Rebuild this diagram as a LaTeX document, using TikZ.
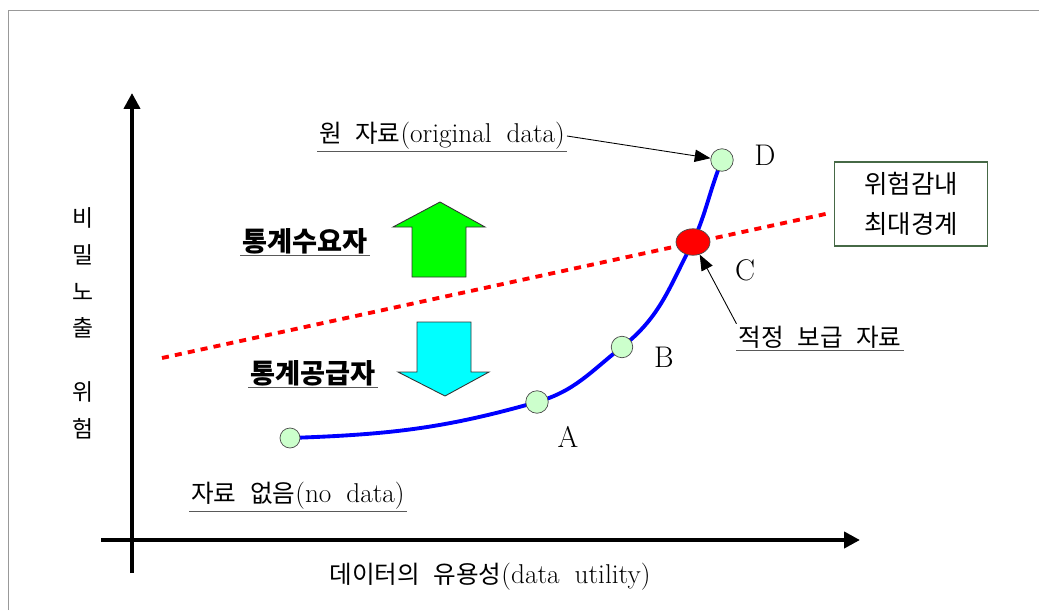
\documentclass[tikz,border=0pt]{standalone}
\usepackage{fontspec}
\usepackage{tikz}
\usetikzlibrary{arrows.meta,shapes.geometric}
\newfontfamily\kr{Noto Sans CJK KR}
\newcommand{\ksp}{\hspace{0.55em}}
\definecolor{ptgreen}{RGB}{204,255,204}
\definecolor{boxgreen}{RGB}{70,105,70}
\definecolor{upgreen}{RGB}{0,255,0}
\definecolor{downcyan}{RGB}{0,255,255}

\begin{document}
\begin{tikzpicture}[x=0.02cm,y=0.02cm,
  axisline/.style={line width=2.3pt,-{Triangle[length=9pt,width=9pt]}},
  ptnode/.style={circle,draw=black!70,fill=ptgreen,minimum size=0.4cm,inner sep=0pt},
  pointer/.style={line width=0.5pt,-{Triangle[length=9pt,width=7pt]}},
  lbl/.style={font=\fontsize{15.5}{18}\selectfont,inner sep=1pt},
  uline/.style={gray!70!black,line width=0.6pt}]
\useasboundingbox (0,0) rectangle (1039,610);
\draw[gray!80] (8,0) -- (8,600) -- (1039,600);
\coordinate (ybot) at (132,37);
\coordinate (ytop) at (132,517);
\coordinate (xleft) at (101,70);
\coordinate (xright) at (860,70);
\draw[axisline] (ybot) -- (ytop);
\draw[axisline] (xleft) -- (xright);
\node[font=\kr\fontsize{13}{21}\selectfont,align=center] (ylab) at (83,287) {비\\밀\\노\\출\\[15pt]위\\험};
\node[lbl] (xlab) at (490,33) {{\kr\fontsize{14}{18}\selectfont 데이터의\ksp 유용성}(data\ksp utility)};
\coordinate (lineL) at (162,252);
\coordinate (lineR) at (830,397);
\draw[red,line width=2.2pt,dash pattern=on 4pt off 3.5pt] (lineL) -- (lineR);
\coordinate (s) at (290,172);
\coordinate (a) at (537,208);
\coordinate (b) at (622,263);
\coordinate (c) at (693,368);
\coordinate (d) at (722,450);
\draw[blue,line width=2.2pt] (s) to[out=2,in=196] (a) to[out=16,in=218] (b) to[out=38,in=242] (c) to[out=66,in=248] (d);
\node[ptnode] (pS) at (s) {};
\node[ptnode,minimum size=0.45cm] (pA) at (a) {};
\node[ptnode,minimum size=0.43cm] (pB) at (b) {};
\node[ellipse,draw=black!70,fill=red,minimum width=0.68cm,minimum height=0.53cm,inner sep=0pt] (pC) at (c) {};
\node[ptnode,minimum size=0.45cm] (pD) at (d) {};
\node[lbl,font=\fontsize{17}{18}\selectfont] (labA) at (568,173) {A};
\node[lbl,font=\fontsize{17}{18}\selectfont] (labB) at (664,253) {B};
\node[lbl,font=\fontsize{17}{18}\selectfont] (labC) at (745,340) {C};
\node[lbl,font=\fontsize{17}{18}\selectfont] (labD) at (765,455) {D};
\node[lbl] (orig) at (442,474) {{\kr\fontsize{14}{18}\selectfont 원\ksp 자료}(original\ksp data)};
\draw[uline] (orig.south west) -- (orig.south east);
\draw[pointer] (orig.east) -- (pD);
\node[lbl] (nodata) at (298,114) {{\kr\fontsize{14}{18}\selectfont 자료\ksp 없음}(no\ksp data)};
\draw[uline] (nodata.south west) -- (nodata.south east);
\node[lbl,font=\kr\fontsize{14}{18}\selectfont] (opt) at (820,273) {적정\ksp 보급\ksp 자료};
\draw[uline] (opt.south west) -- (opt.south east);
\draw[pointer] (opt.north west) -- (pC);
\node[draw=boxgreen,line width=0.6pt,align=center,minimum width=3.06cm,minimum height=1.68cm,font=\kr\fontsize{14.5}{23}\selectfont] (limit) at (911,406) {위험감내\\최대경계};
\node[font=\kr\bfseries\fontsize{15.5}{18}\selectfont,inner sep=1pt] (demand) at (305,369) {통계수요자};
\draw[uline] (demand.south west) -- (demand.south east);
\node[font=\kr\bfseries\fontsize{15.5}{18}\selectfont,inner sep=1pt] (supply) at (313,237) {통계공급자};
\draw[uline] (supply.south west) -- (supply.south east);
\fill[upgreen] (412,333) -- (466,333) -- (466,383) -- (485,383) -- (440,408) -- (393,383) -- (412,383) -- cycle;
\draw[black!80,line width=0.5pt] (412,333) -- (466,333) -- (466,383) -- (485,383) -- (440,408) -- (393,383) -- (412,383) -- cycle;
\fill[downcyan] (417,288) -- (471,288) -- (471,238) -- (489,238) -- (445,214) -- (398,238) -- (417,238) -- cycle;
\draw[black!80,line width=0.5pt] (417,288) -- (471,288) -- (471,238) -- (489,238) -- (445,214) -- (398,238) -- (417,238) -- cycle;
\end{tikzpicture}
\end{document}
